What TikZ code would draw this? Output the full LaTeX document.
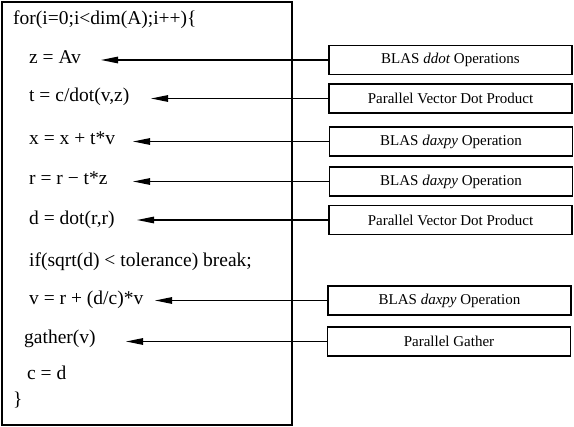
\documentclass[tikz,border=0pt]{standalone}
\usepackage{fontspec}
\setmainfont{Liberation Serif}
\usetikzlibrary{arrows.meta}

\tikzset{
  code/.style={anchor=mid west, inner sep=0pt, font=\fontsize{19.5}{22}\selectfont},
  opbox/.style={draw, line width=1.3pt, minimum width=243pt, minimum height=29pt,
    inner sep=0pt, font=\fontsize{15}{18}\selectfont},
  call/.style={-{Triangle[length=17pt, width=6.5pt]}, line width=1.3pt},
}

\begin{document}
\begin{tikzpicture}[x=1pt, y=-1pt, line cap=butt]
\useasboundingbox (0,0) rectangle (574,427);
%========================
% Left: the loop
%========================
\draw[line width=1.4pt] (2,2) rectangle (292,425);

\node[code] (loop) at (13,22) {for(i=0;i<dim(A);i++)\{};
\node[code] (zav) at (29,61.5) {z = Av};
\node[code] (tdot) at (29,99.5) {t = c/dot(v,z)};
\node[code] (xupd) at (29,142.5) {x = x + t*v};
\node[code] (rupd) at (29,182.5) {r = r − t*z};
\node[code] (ddotr) at (29,222.5) {d = dot(r,r)};
\node[code] (test) at (29,264.5) {if(sqrt(d) < tolerance) break;};
\node[code] (vupd) at (29,302.5) {v = r + (d/c)*v};
\node[code] (gath) at (24,341) {gather(v)};
\node[code] (cupd) at (27,377.5) {c = d};
\node[code] (close) at (13,403) {\}};

%========================
% Right: the operations
%========================
\node[opbox] (blasdot) at (450.5,60) {BLAS \textit{ddot} Operations};
\node[opbox] (pdot1) at (450.5,98.5) {Parallel Vector Dot Product};
\node[opbox] (axpy1) at (451,141.5) {BLAS \textit{daxpy} Operation};
\node[opbox] (axpy2) at (451,181.5) {BLAS \textit{daxpy} Operation};
\node[opbox] (pdot2) at (450.5,220) {Parallel Vector Dot Product};
\node[opbox] (axpy3) at (449.5,300.5) {BLAS \textit{daxpy} Operation};
\node[opbox] (pgath) at (449,341.5) {Parallel Gather};

% arrow tips next to the code lines
\coordinate (zav tip) at (101,60);
\coordinate (tdot tip) at (151,98.5);
\coordinate (xupd tip) at (133,141.5);
\coordinate (rupd tip) at (133,181.5);
\coordinate (ddotr tip) at (137,220);
\coordinate (vupd tip) at (155,300.5);
\coordinate (gath tip) at (126,341.5);

\draw[call] (blasdot.west) -- (zav tip);
\draw[call] (pdot1.west) -- (tdot tip);
\draw[call] (axpy1.west) -- (xupd tip);
\draw[call] (axpy2.west) -- (rupd tip);
\draw[call] (pdot2.west) -- (ddotr tip);
\draw[call] (axpy3.west) -- (vupd tip);
\draw[call] (pgath.west) -- (gath tip);
\end{tikzpicture}
\end{document}
